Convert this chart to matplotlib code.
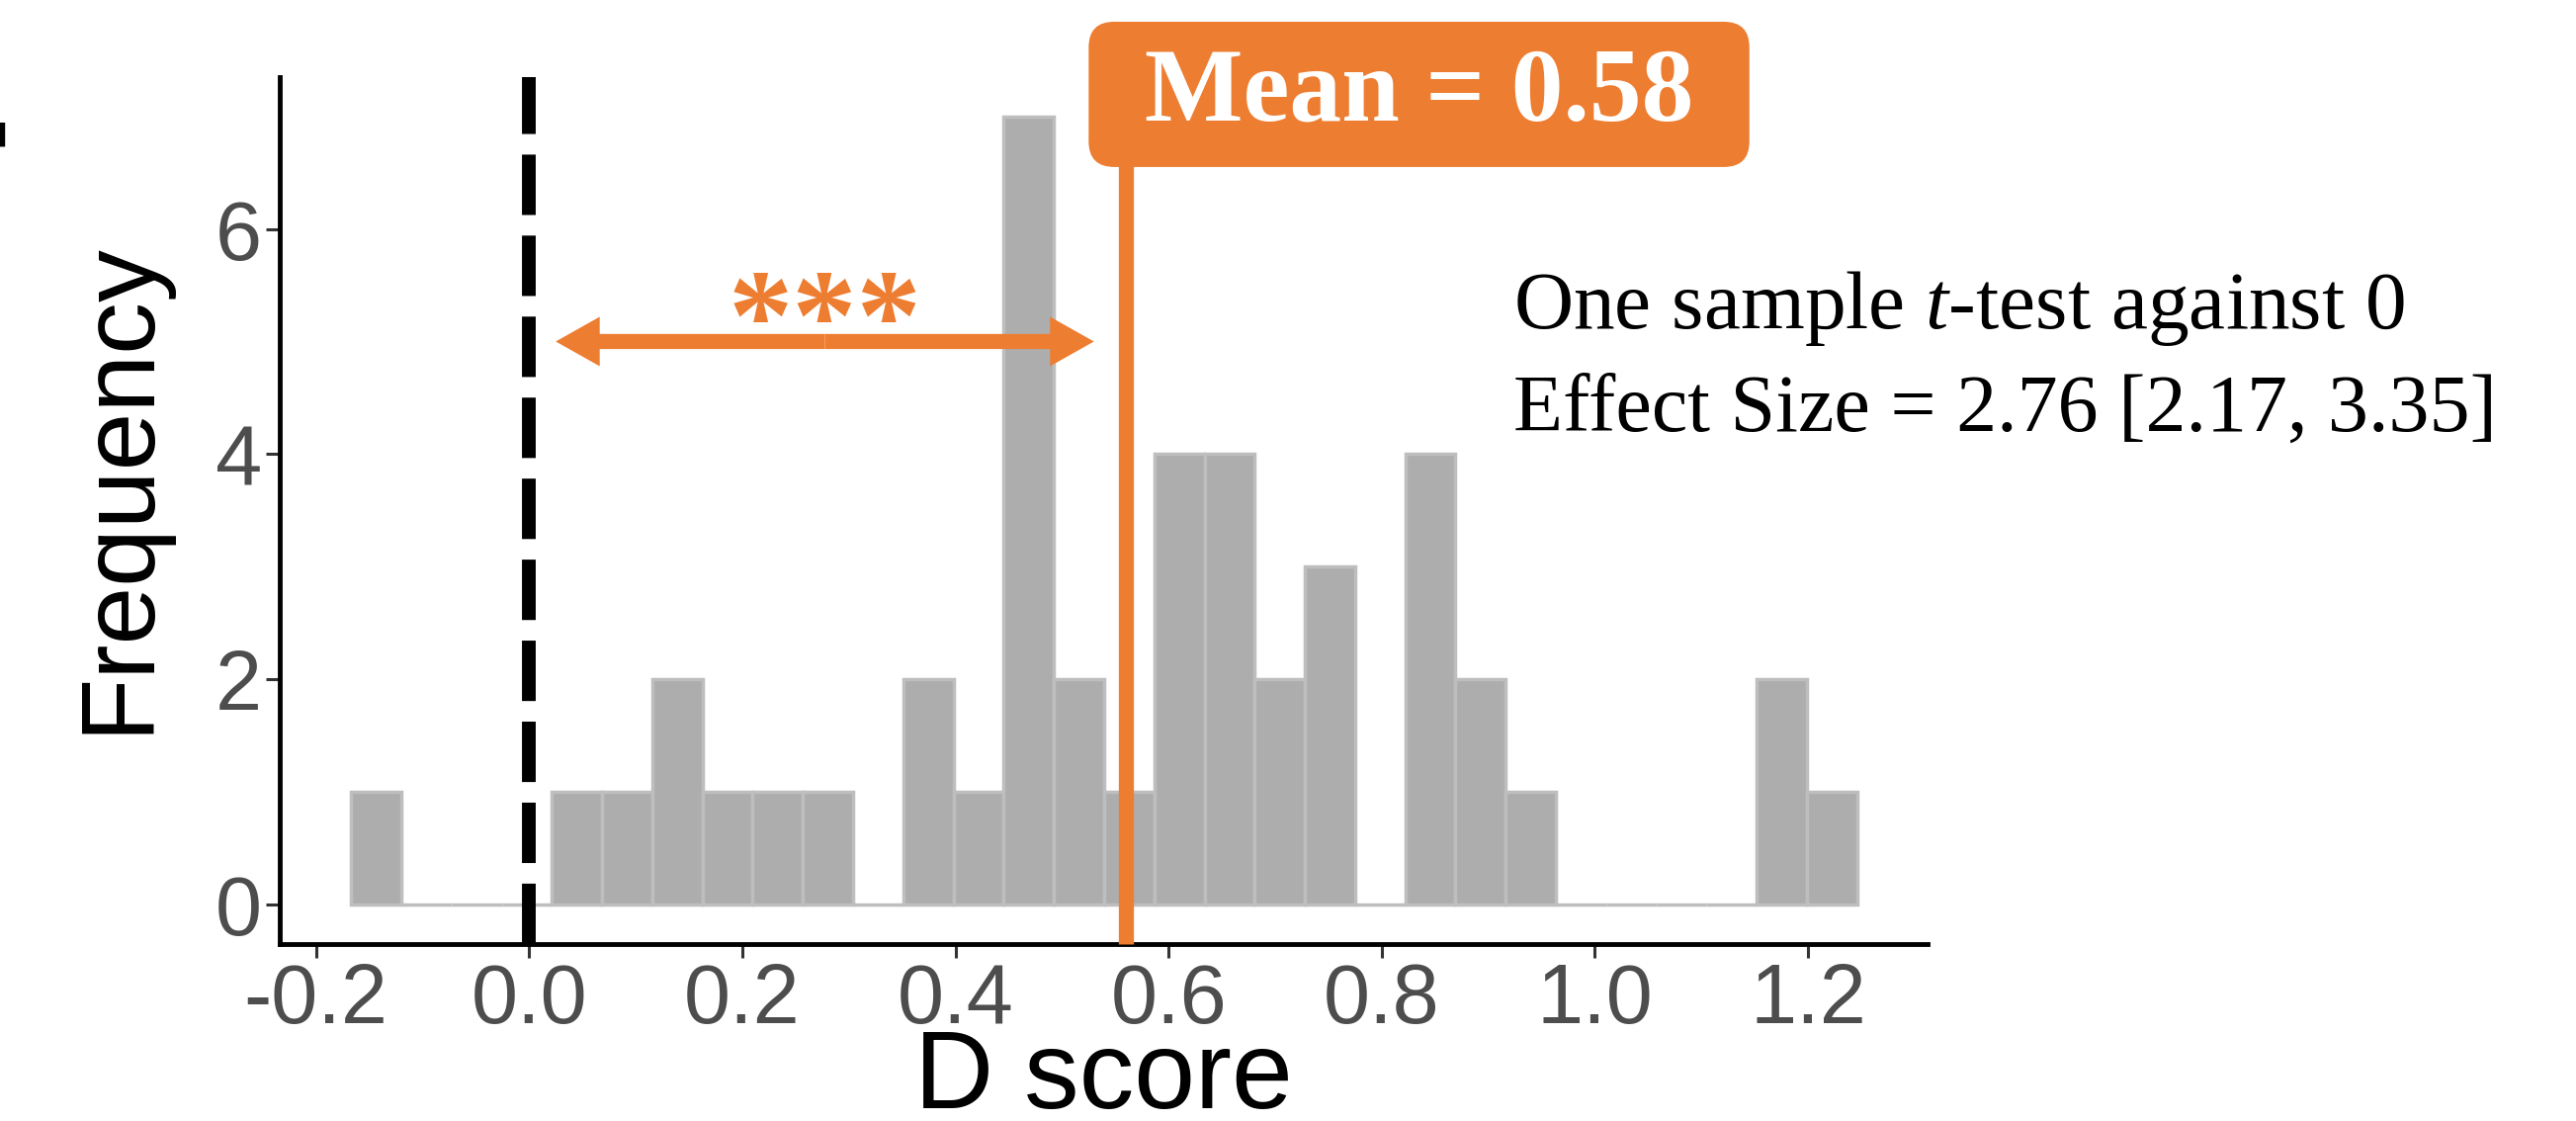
import numpy as np
import matplotlib.pyplot as plt
from matplotlib.patches import FancyBboxPatch

plt.rcParams['axes.unicode_minus'] = False
plt.rcParams['mathtext.fontset'] = 'custom'
plt.rcParams['mathtext.rm'] = 'Liberation Serif'
plt.rcParams['mathtext.it'] = 'Liberation Serif:italic'

# histogram of D scores (30 bins)
bin_left = -0.167
bin_width = 0.0471
counts = [1, 0, 0, 0, 1, 1, 2, 1, 1, 1, 0, 2, 1, 7, 2,
          1, 4, 4, 2, 3, 0, 4, 2, 1, 0, 0, 0, 0, 2, 1]
mean_line = 0.56
mean_label = 'Mean = 0.58'
arrow_from = 0.025
arrow_y = 5.0
stats_lines = ['One sample $t$-test against 0',
               'Effect Size = 2.76 [2.17, 3.35]']
xticks = [-0.2, 0.0, 0.2, 0.4, 0.6, 0.8, 1.0, 1.2]
yticks = [0, 2, 4, 6]

orange = '#ED7D31'
sans = 'Liberation Sans'
serif = 'Liberation Serif'

edges = bin_left + bin_width * np.arange(len(counts) + 1)

fig = plt.figure(figsize=(26.06, 11.34), dpi=100)
ax = fig.add_axes([0.1086, 0.158, 0.6396, 0.7734])

ax.bar(edges[:-1], counts, width=bin_width, align='edge',
       color='#ADADAD', edgecolor='#BEBEBE', linewidth=2.5, zorder=2)

# reference line at 0
ax.axvline(0, color='black', lw=10, linestyle=(0, (4.4, 1.5)), zorder=3)

# mean line and label box
ax.plot([mean_line, mean_line], [-0.35, 7.0], color=orange, lw=11,
        solid_capstyle='butt', zorder=4, clip_on=False)
box = FancyBboxPatch((mean_line - 0.035, 6.55), 0.62, 1.29,
                     boxstyle='round,pad=0,rounding_size=0.024',
                     mutation_aspect=9.5, fc=orange, ec='none',
                     transform=ax.transData, clip_on=False, zorder=5)
ax.add_patch(box)
ax.text(mean_line - 0.035 + 0.31, 7.19, mean_label, color='white',
        fontsize=76, fontweight='bold', family=serif,
        ha='center', va='center', zorder=6, clip_on=False)

# double headed arrow (two halves from the middle)
mid = (arrow_from + mean_line - 0.03) / 2
for end in [arrow_from, mean_line - 0.03]:
    ax.annotate('', xy=(end, arrow_y), xytext=(mid, arrow_y),
                arrowprops=dict(arrowstyle='simple,head_length=3.2,head_width=3.6,tail_width=1.1',
                                fc=orange, ec='none', lw=0, mutation_scale=10,
                                shrinkA=0, shrinkB=0), zorder=5)
ax.text(mid, 4.85, '***', color=orange, fontsize=94, fontweight='bold',
        family=serif, ha='center', va='baseline', zorder=5)

# test annotation
ax.text(0.924, 5.12, stats_lines[0], fontsize=60, family=serif,
        ha='left', va='baseline', clip_on=False)
ax.text(0.924, 4.21, stats_lines[1], fontsize=59, family=serif,
        ha='left', va='baseline', clip_on=False)

ax.set_xlim(-0.234, 1.312)
ax.set_ylim(-0.35, 7.35)
ax.set_xticks(xticks)
ax.set_xticklabels(['%.1f' % t for t in xticks])
ax.set_yticks(yticks)

for s in ['top', 'right']:
    ax.spines[s].set_visible(False)
for s in ['left', 'bottom']:
    ax.spines[s].set_linewidth(3.5)
    ax.spines[s].set_color('black')

ax.tick_params(length=10, width=2.2, color='#333333', labelcolor='#4D4D4D',
               labelsize=61, pad=3)
for lab in ax.get_xticklabels() + ax.get_yticklabels():
    lab.set_family(sans)

ax.set_xlabel('D score', fontsize=80, family=sans, labelpad=-9)
ax.set_ylabel('Frequency', fontsize=76, family=sans, labelpad=34)
ax.yaxis.label.set_y(0.527)

# cut-off panel letter at the left edge
fig.text(-0.028, 0.811, 'F', fontsize=100, fontweight='bold', family=serif,
         ha='left', va='baseline')

fig.savefig('out.png', dpi=100)
